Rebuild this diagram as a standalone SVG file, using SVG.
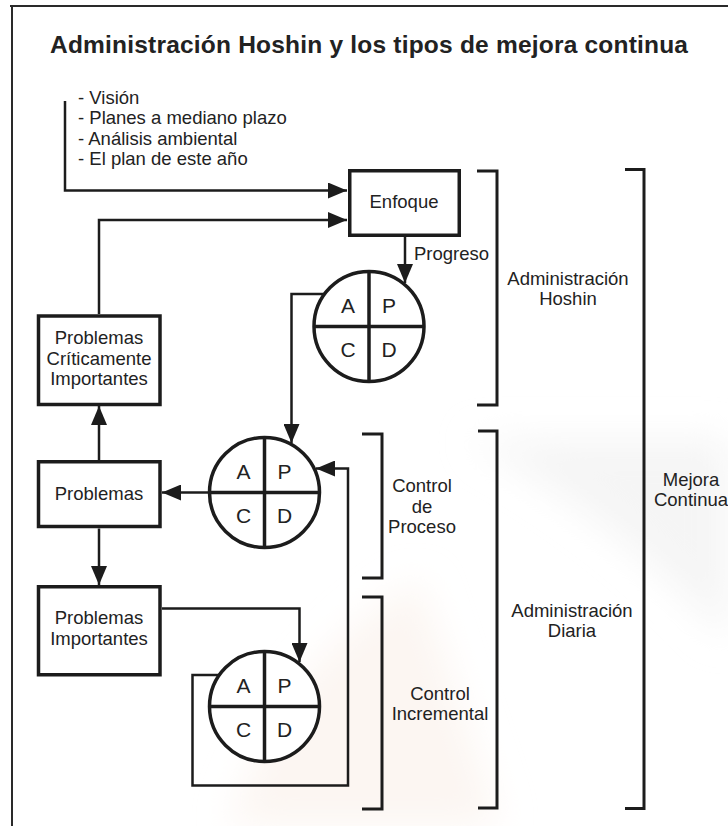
<svg xmlns="http://www.w3.org/2000/svg" width="728" height="826" viewBox="0 0 728 826">
  <defs>
    <marker id="arrow" viewBox="0 0 19 16" refX="19" refY="8" markerWidth="19" markerHeight="16" markerUnits="userSpaceOnUse" orient="auto">
      <path d="M0,0 L19,8 L0,16 z" fill="#1c1c1c"/>
    </marker>
    <filter id="soft" x="-30%" y="-30%" width="160%" height="160%">
      <feGaussianBlur stdDeviation="18"/>
    </filter>
  </defs>
  <style>
    text { font-family: "Liberation Sans", Arial, sans-serif; fill: #222; }
    .lbl { font-size: 18.5px; text-anchor: middle; }
    .list { font-size: 18.5px; }
    .pdca { font-size: 21px; text-anchor: middle; }
    .box { fill: #fff; stroke: #1c1c1c; stroke-width: 3.5; }
    .ring { fill: #fff; stroke: #1c1c1c; stroke-width: 3.5; }
    .div { stroke: #1c1c1c; stroke-width: 3.5; fill: none; }
    .conn { fill: none; stroke: #1c1c1c; stroke-width: 2.5; }
    .brk { fill: none; stroke: #1c1c1c; stroke-width: 3; }
  </style>

  <!-- page with faint background wash -->
  <rect x="0" y="0" width="728" height="826" fill="#fff"/>
  <g filter="url(#soft)">
    <path d="M470,440 Q620,520 728,640 V440 Z" fill="#f5f5f5"/>
    <path d="M230,826 Q280,660 420,580 L500,826 Z" fill="#fcf6f2"/>
  </g>
  <path d="M10,6 H728 M12,6 V826" stroke="#2a2a2a" stroke-width="2" fill="none"/>

  <!-- title -->
  <text x="50" y="53" font-size="24.5" font-weight="bold" textLength="638" lengthAdjust="spacing">Administración Hoshin y los tipos de mejora continua</text>

  <!-- inputs -->
  <g id="inputs">
    <text class="list" x="78" y="103.5">- Visión</text>
    <text class="list" x="78" y="124">- Planes a mediano plazo</text>
    <text class="list" x="78" y="144.5">- Análisis ambiental</text>
    <text class="list" x="78" y="165">- El plan de este año</text>
  </g>

  <!-- connectors -->
  <g id="connectors">
    <path class="conn" d="M65,101 V190.5 H347" marker-end="url(#arrow)"/>
    <path class="conn" d="M99,314 V220 H347" marker-end="url(#arrow)"/>
    <path class="conn" d="M405,237 V283" marker-end="url(#arrow)"/>
    <path class="conn" d="M325,294 H291.5 V443" marker-end="url(#arrow)"/>
    <path class="conn" d="M209,492.5 H162" marker-end="url(#arrow)"/>
    <path class="conn" d="M99,460 V406" marker-end="url(#arrow)"/>
    <path class="conn" d="M99,528.5 V585" marker-end="url(#arrow)"/>
    <path class="conn" d="M162,608.5 H299.5 V662" marker-end="url(#arrow)"/>
    <path class="conn" d="M219,675 H192.5 V785.5 H348 V468.5 H316" marker-end="url(#arrow)"/>
    <text x="414" y="260" font-size="18.5">Progreso</text>
  </g>

  <!-- boxes -->
  <g id="enfoque">
    <rect class="box" x="349.75" y="170.75" width="109.5" height="64.5"/>
    <text class="lbl" x="404" y="208">Enfoque</text>
  </g>
  <g id="problemas-criticos">
    <rect class="box" x="38.5" y="316" width="121.5" height="88.5"/>
    <text class="lbl" x="99" y="344">Problemas</text>
    <text class="lbl" x="99" y="364.5">Críticamente</text>
    <text class="lbl" x="99" y="385">Importantes</text>
  </g>
  <g id="problemas">
    <rect class="box" x="38.5" y="461.75" width="121.5" height="64.75"/>
    <text class="lbl" x="99" y="500">Problemas</text>
  </g>
  <g id="problemas-importantes">
    <rect class="box" x="38.5" y="586.75" width="121.5" height="88"/>
    <text class="lbl" x="99" y="624">Problemas</text>
    <text class="lbl" x="99" y="645">Importantes</text>
  </g>

  <!-- PDCA wheels -->
  <g id="pdca-hoshin" transform="translate(369,326.5)">
    <circle class="ring" r="55"/>
    <path class="div" d="M0,-55 V55 M-55,0 H55"/>
    <text class="pdca" x="-21" y="-13.5">A</text>
    <text class="pdca" x="20" y="-13.5">P</text>
    <text class="pdca" x="-21" y="30.5">C</text>
    <text class="pdca" x="20" y="30.5">D</text>
  </g>
  <g id="pdca-proceso" transform="translate(264.5,492.5)">
    <circle class="ring" r="55"/>
    <path class="div" d="M0,-55 V55 M-55,0 H55"/>
    <text class="pdca" x="-21" y="-13.5">A</text>
    <text class="pdca" x="20" y="-13.5">P</text>
    <text class="pdca" x="-21" y="30.5">C</text>
    <text class="pdca" x="20" y="30.5">D</text>
  </g>
  <g id="pdca-incremental" transform="translate(264.5,706.5)">
    <circle class="ring" r="55"/>
    <path class="div" d="M0,-55 V55 M-55,0 H55"/>
    <text class="pdca" x="-21" y="-13.5">A</text>
    <text class="pdca" x="20" y="-13.5">P</text>
    <text class="pdca" x="-21" y="30.5">C</text>
    <text class="pdca" x="20" y="30.5">D</text>
  </g>

  <!-- brackets -->
  <g id="admin-hoshin">
    <path class="brk" d="M477,171 H497 V405 H477"/>
    <text class="lbl" x="568" y="285">Administración</text>
    <text class="lbl" x="568" y="305">Hoshin</text>
  </g>
  <g id="control-proceso">
    <path class="brk" d="M362,434 H382 V578 H362"/>
    <text class="lbl" x="422" y="492">Control</text>
    <text class="lbl" x="422" y="512.5">de</text>
    <text class="lbl" x="422" y="533">Proceso</text>
  </g>
  <g id="control-incremental">
    <path class="brk" d="M362,597 H382 V809 H362"/>
    <text class="lbl" x="440" y="699.5">Control</text>
    <text class="lbl" x="440" y="720">Incremental</text>
  </g>
  <g id="admin-diaria">
    <path class="brk" d="M478,431 H497 V808 H478"/>
    <text class="lbl" x="572" y="617">Administración</text>
    <text class="lbl" x="572" y="637">Diaria</text>
  </g>
  <g id="mejora-continua">
    <path class="brk" d="M625,169.5 H644 V808.5 H625"/>
    <text class="lbl" x="691" y="486">Mejora</text>
    <text class="lbl" x="691" y="506">Continua</text>
  </g>
</svg>
